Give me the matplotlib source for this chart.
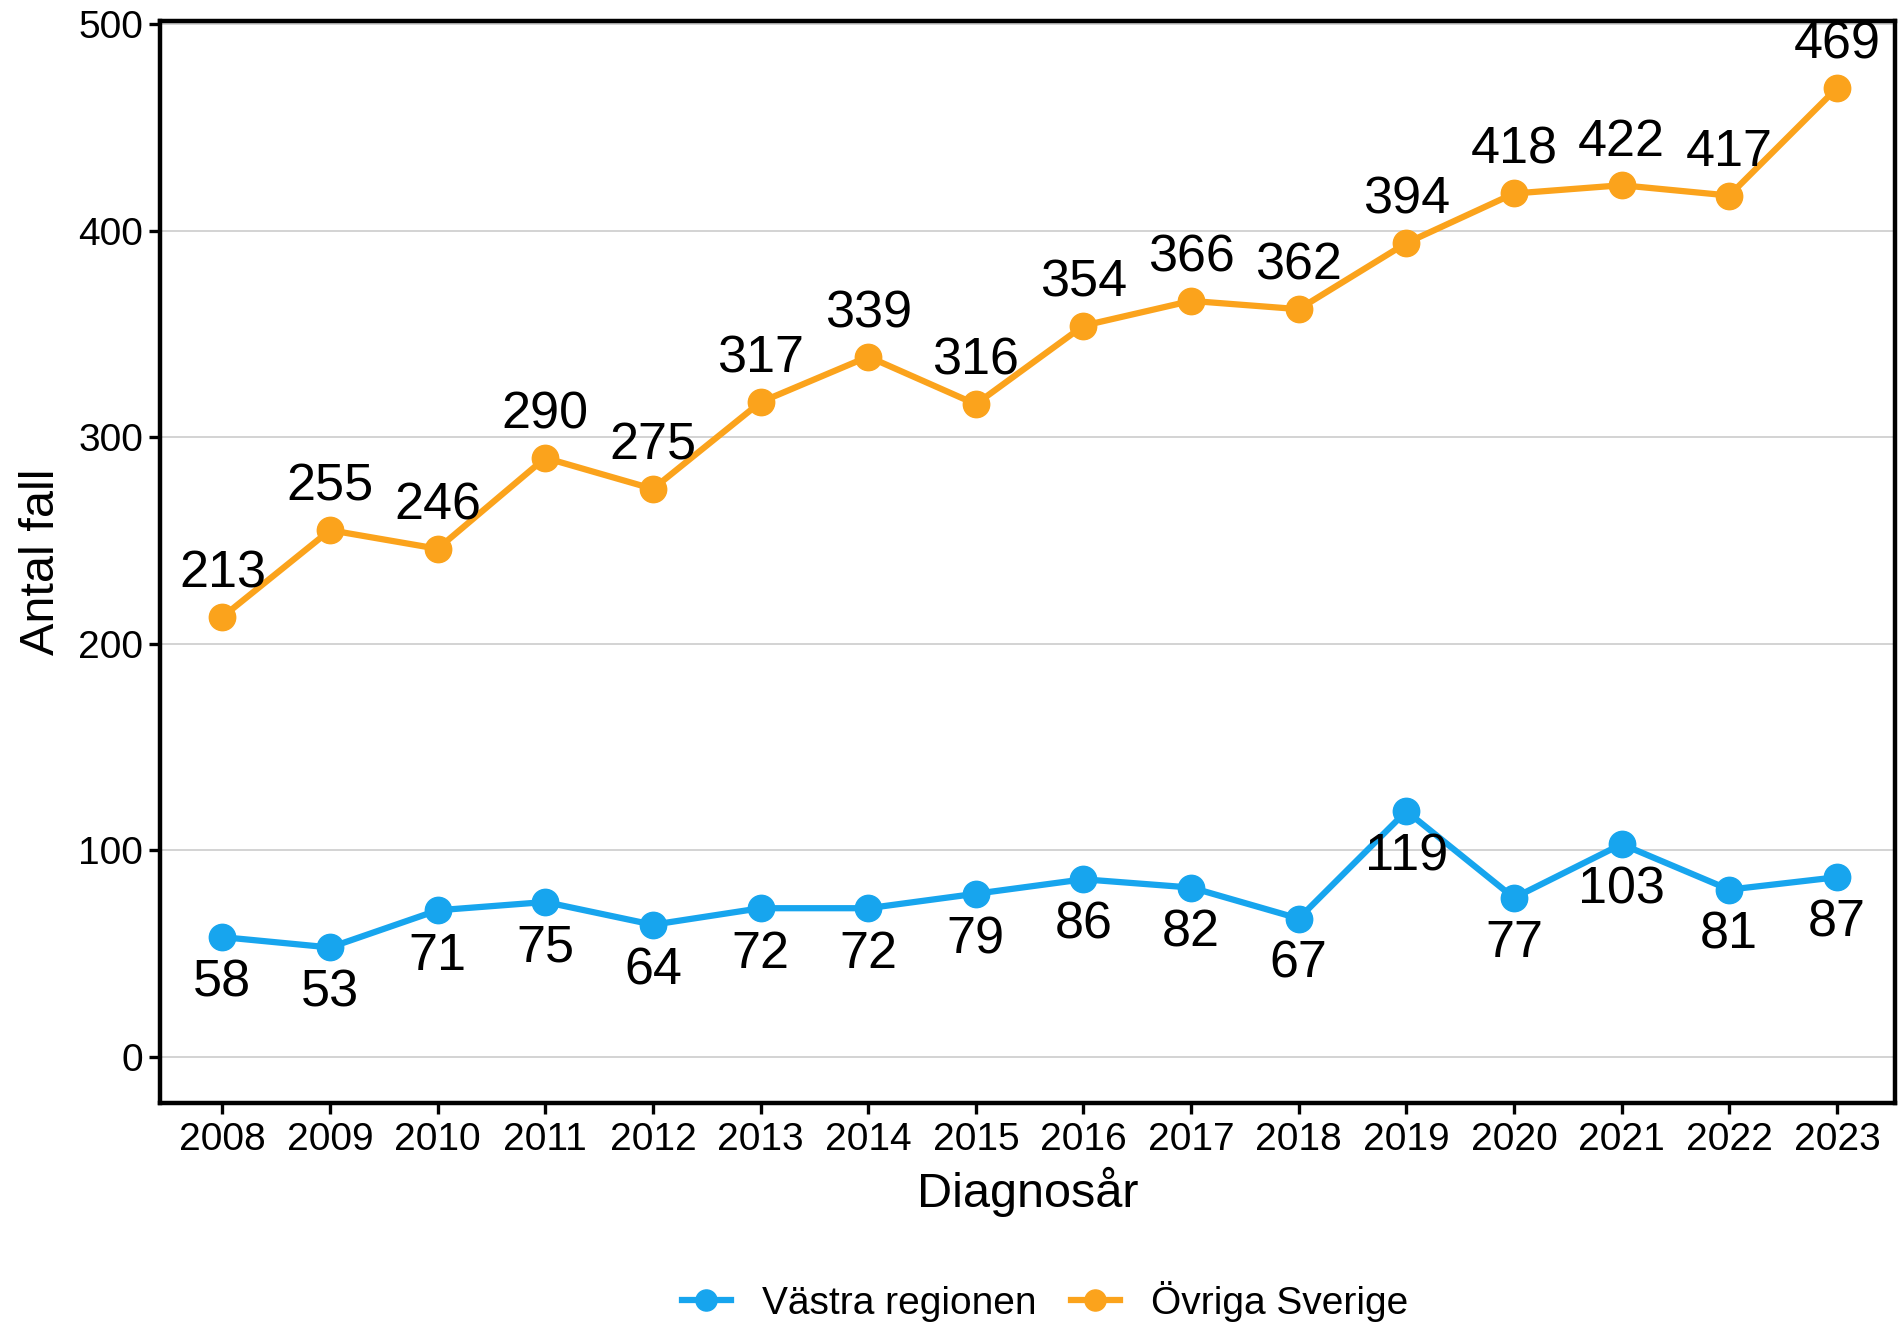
import matplotlib
matplotlib.use("Agg")
import matplotlib.pyplot as plt
import numpy as np

plt.rcParams['font.family'] = ['Liberation Sans', 'DejaVu Sans']

years = [2008, 2009, 2010, 2011, 2012, 2013, 2014, 2015, 2016, 2017, 2018, 2019, 2020, 2021, 2022, 2023]
vastra = [58, 53, 71, 75, 64, 72, 72, 79, 86, 82, 67, 119, 77, 103, 81, 87]
ovriga = [213, 255, 246, 290, 275, 317, 339, 316, 354, 366, 362, 394, 418, 422, 417, 469]
series_names = ["Västra regionen", "Övriga Sverige"]
colors = ["#17A5EE", "#FBA31C"]
yticks = [0, 100, 200, 300, 400, 500]

fig = plt.figure(figsize=(19.01, 13.23), dpi=100)
ax = fig.add_axes([160/1901, 1 - 1103/1323, (1895-160)/1901, (1103-21)/1323])

ax.plot(years, vastra, color=colors[0], lw=4.5, marker='o', ms=19, label=series_names[0], zorder=3)
ax.plot(years, ovriga, color=colors[1], lw=4.5, marker='o', ms=19, label=series_names[1], zorder=3)

for x, v in zip(years, vastra):
    ax.annotate(str(v), (x, v), xytext=(0, -33), textcoords='offset points',
                ha='center', va='center', fontsize=37.5, color='black')
for x, v in zip(years, ovriga):
    ax.annotate(str(v), (x, v), xytext=(0, 31), textcoords='offset points',
                ha='center', va='center', fontsize=37.5, color='black')

ax.set_xlim(2007.42, 2023.54)
ax.set_ylim(-22.3, 501.5)
ax.set_xticks(years)
ax.set_xticklabels([str(y) for y in years])
ax.set_yticks(yticks)
ax.yaxis.grid(True, color='#CCCCCC', lw=1.2)
ax.set_axisbelow(True)
for s in ax.spines.values():
    s.set_linewidth(3.2)
    s.set_color('black')
ax.tick_params(axis='both', labelsize=28, width=2.4, length=8, color='black', labelcolor='black')
ax.tick_params(axis='x', pad=6)
ax.tick_params(axis='y', pad=4)

ax.set_xlabel("Diagnosår", fontsize=35, labelpad=6)
ax.set_ylabel("Antal fall", fontsize=35, labelpad=10)

leg = fig.legend(loc='center', bbox_to_anchor=(1045/1901, 1 - 1301/1323), ncol=2, frameon=False,
                 fontsize=28, handlelength=1.25, columnspacing=0.9, handletextpad=0.8, markerscale=0.8)

fig.savefig("out.png", dpi=100)
